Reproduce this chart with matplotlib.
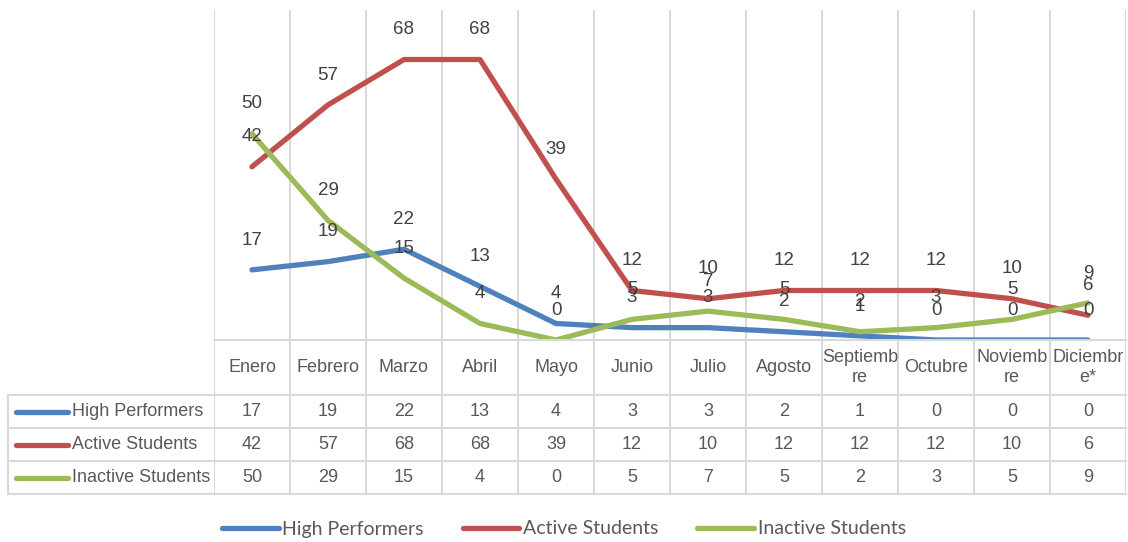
import matplotlib.pyplot as plt
from matplotlib.lines import Line2D

months = ["Enero", "Febrero", "Marzo", "Abril", "Mayo", "Junio", "Julio",
          "Agosto", "Septiemb\nre", "Octubre", "Noviemb\nre", "Diciembr\ne*"]
series_names = ["High Performers", "Active Students", "Inactive Students"]
high = [17, 19, 22, 13, 4, 3, 3, 2, 1, 0, 0, 0]
active = [42, 57, 68, 68, 39, 12, 10, 12, 12, 12, 10, 6]
inactive = [50, 29, 15, 4, 0, 5, 7, 5, 2, 3, 5, 9]
colors = ["#4F81BD", "#C0504D", "#9BBB59"]

NARROW = ["Liberation Sans Narrow", "Liberation Sans", "DejaVu Sans"]
GRID = "#D9D9D9"
TXT = "#595959"
FS = 13

W, H = 1128, 542
fig = plt.figure(figsize=(W / 100, H / 100), dpi=100)

# layout in pixels
x_left, x_right = 214, 1126
y_top, y_axis, y_tab_bottom = 10, 340, 494
row_lines = [340, 395, 428, 461, 494]
label_left = 8

def fx(px):
    return px / W

def fy(py):
    return 1 - py / H

ax = fig.add_axes([fx(x_left), fy(y_axis), fx(x_right) - fx(x_left), fy(y_top) - fy(y_axis)])
ta = fig.add_axes([fx(x_left), fy(y_tab_bottom), fx(x_right) - fx(x_left), fy(y_axis) - fy(y_tab_bottom)])

n = len(months)
xs = list(range(n))
bounds = [i - 0.5 for i in range(n + 1)]

ax.set_xlim(-0.5, n - 0.5)
ax.set_ylim(0, 80)
ax.axis("off")
ax.vlines(bounds, 0, 80, colors=GRID, lw=1.5, zorder=0)

all_series = [high, active, inactive]
for vals, col, name in zip(all_series, colors, series_names):
    ax.plot(xs, vals, color=col, lw=3.8, solid_capstyle="round",
            solid_joinstyle="round", label=name, zorder=3)
    for x, v in zip(xs, vals):
        ax.annotate(str(v), (x, v), xytext=(0, 21.5), textcoords="offset points",
                    ha="center", va="center", fontsize=FS + 0.5, family=NARROW,
                    color="#404040", zorder=4)

# data table below the plot
ta.set_xlim(-0.5, n - 0.5)
ta.set_ylim(0, 1)
ta.axis("off")
tab_h = y_tab_bottom - y_axis
ry = [(y_tab_bottom - r) / tab_h for r in row_lines]
lx = (label_left - x_left) / (x_right - x_left)

ta.vlines(bounds, 0, 1, colors=GRID, lw=1.5)
ta.plot([0, 1], [ry[0], ry[0]], transform=ta.transAxes, color=GRID, lw=1.5, clip_on=False)
for yv in ry[1:]:
    ta.plot([lx, 1], [yv, yv], transform=ta.transAxes, color=GRID, lw=1.5, clip_on=False)
ta.plot([lx, lx], [0, ry[1]], transform=ta.transAxes, color=GRID, lw=1.5, clip_on=False)

hdr_y = (ry[0] + ry[1]) / 2
for x, m in zip(xs, months):
    ta.text(x, hdr_y, m, ha="center", va="center", fontsize=FS, family=NARROW,
            color=TXT, linespacing=1.2)

for k, (vals, col, name) in enumerate(zip(all_series, colors, series_names)):
    yc = (ry[k + 1] + ry[k + 2]) / 2
    for x, v in zip(xs, vals):
        ta.text(x, yc, str(v), ha="center", va="center", fontsize=FS,
                family=NARROW, color=TXT)
    x0 = (16 - x_left) / (x_right - x_left)
    x1 = (68 - x_left) / (x_right - x_left)
    ta.plot([x0, x1], [yc, yc], transform=ta.transAxes, color=col, lw=3.8,
            solid_capstyle="round", clip_on=False)
    ta.text((72 - x_left) / (x_right - x_left), yc, name, transform=ta.transAxes,
            ha="left", va="center", fontsize=FS, family=NARROW, color=TXT)

handles = [Line2D([0], [0], color=c, lw=3.8, solid_capstyle="round") for c in colors]
fig.legend(handles, series_names, loc="center", bbox_to_anchor=(0.5, fy(529)),
           ncol=3, frameon=False, handlelength=2.9, handletextpad=0.2,
           columnspacing=2.0, prop={"family": ["Lato", "DejaVu Sans"], "size": 14},
           labelcolor=TXT)

fig.savefig("out.png", dpi=100)
